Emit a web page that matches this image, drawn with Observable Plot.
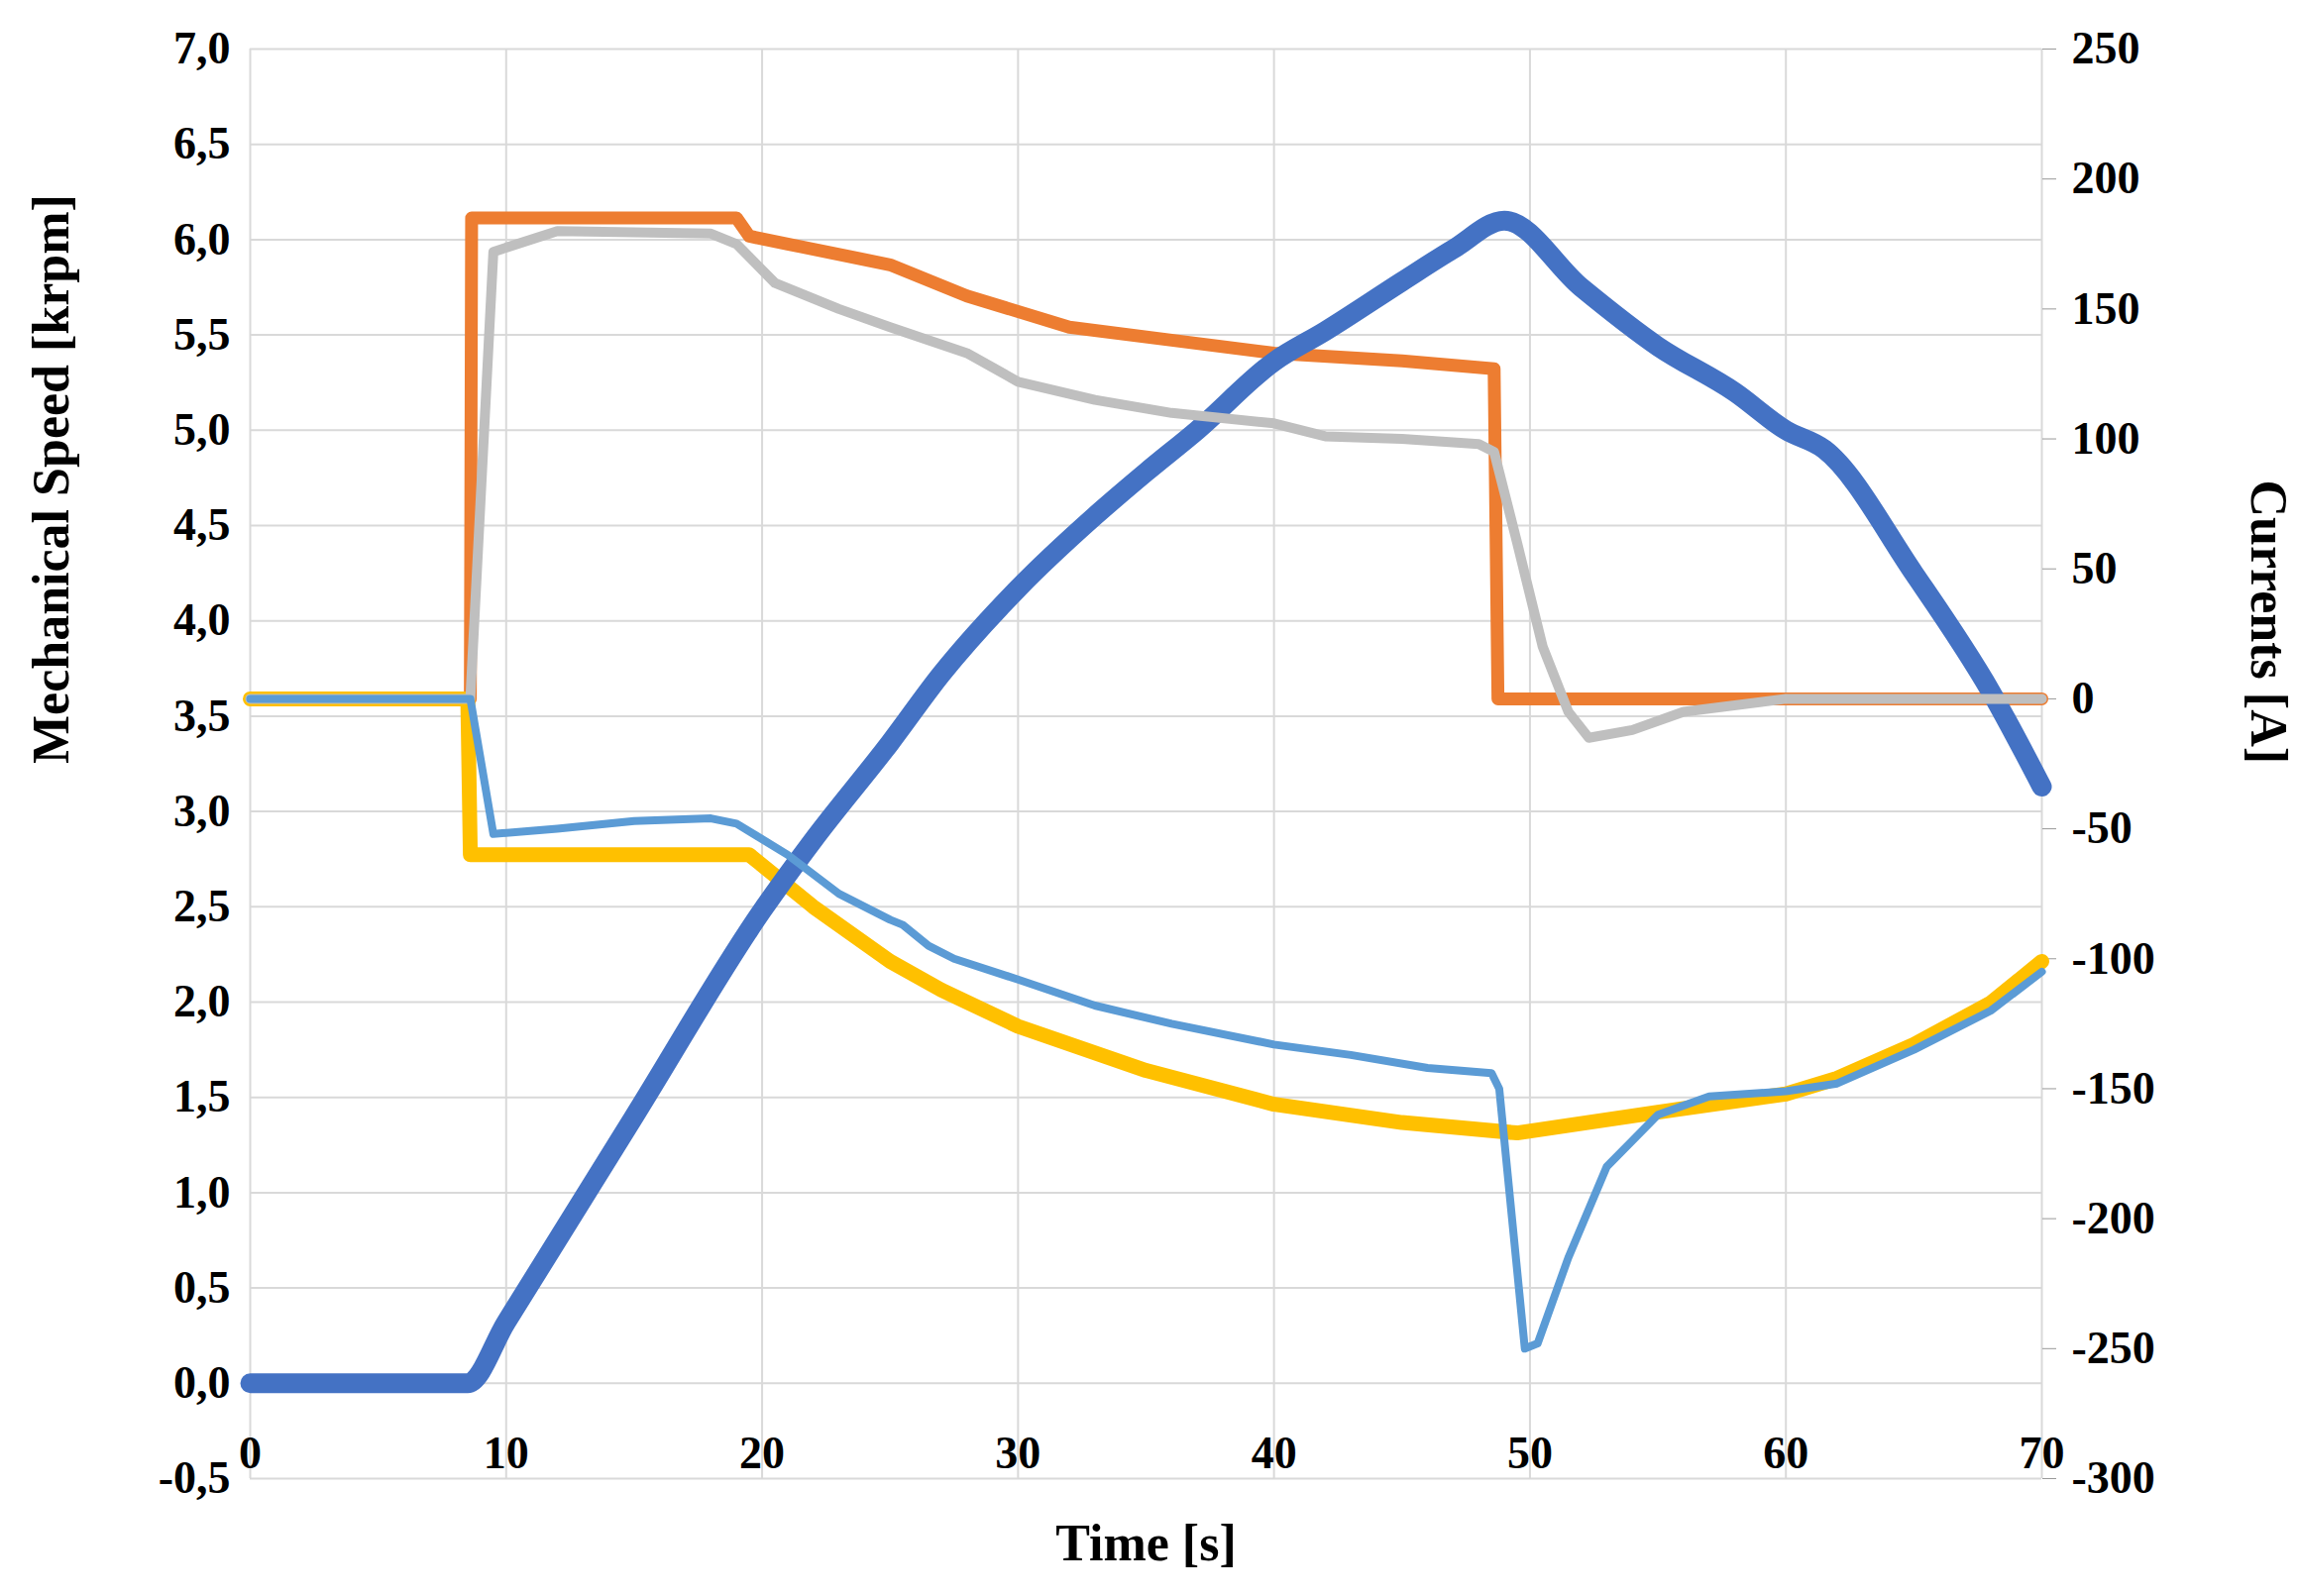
<!DOCTYPE html>
<html><head><meta charset="utf-8">
<script src="https://cdn.jsdelivr.net/npm/d3@7"></script>
<script src="https://cdn.jsdelivr.net/npm/@observablehq/plot@0.6"></script>
<style>body{margin:0;background:#fff}svg{font-family:"Liberation Serif",serif;font-weight:bold}</style>
</head><body><div id="c"></div>
<script>
const speedT = [0,8.5,10,15,20,22,25,27,30,33,35,37,40,42,45,47,49,52,55,58,60,61.5,65,68,70];
const speedV = [0,0,0.32,1.4,2.48,2.85,3.36,3.72,4.17,4.55,4.78,5.0,5.36,5.52,5.78,5.95,6.1,5.75,5.44,5.2,5.0,4.9,4.25,3.63,3.13];
const orangeT = [0,8.6,8.65,19,19.5,21,25,28,32,36,40,45,48.6,48.75,70];
const orangeV = [0,0,185,185,178,175,167,155,143,138,133,130,127,0,0];
const grayT = [0,8.6,9.5,12,18,19,20.5,23,25,28,30,33,36,40,42,45,48,48.6,49.5,50.5,51.5,52.3,54,56,60,70];
const grayV = [0,0,172,180,179,175,160,150,143,133,122,115,110,106,101,100,98,95,60,20,-5,-15,-12,-5,0,0];
const yellowT = [0,8.5,8.6,19.5,22,25,27,30,35,40,45,49.5,55,60,62,65,68,70];
const yellowV = [0,0,-60,-60,-80,-101,-112,-126,-143,-156,-163,-167,-159,-152,-146,-133,-117,-101];
const lblueT = [0,8.6,9.5,12,15,18,19,21,23,25,25.5,26.5,27.5,30,33,36,40,43,46,48.5,48.8,49.3,49.8,50.3,51.5,53,55,57,60,62,65,68,70];
const lblueV = [0,0,-52,-50,-47,-46,-48,-60,-75,-85,-87,-95,-100,-108,-118,-125,-133,-137,-142,-144,-150,-200,-250,-248,-215,-180,-160,-153,-151,-148,-135,-120,-105];
const xTicks = [0,10,20,30,40,50,60,70];
const leftTicks = d3.range(-0.5,7.01,0.5);
const rightTicks = d3.range(-300,251,50);

const conv = c => -0.5 + (c + 300) / 550 * 7.5;
const mk = (T,V,cur) => T.map((t,i)=>({t, v: cur ? conv(V[i]) : V[i]}));
const speed = mk(speedT,speedV,false), orange = mk(orangeT,orangeV,true), gray = mk(grayT,grayV,true),
      yellow = mk(yellowT,yellowV,true), lblue = mk(lblueT,lblueV,true);
const fmt = d => d.toFixed(1).replace(".", ",");

const chart = Plot.plot({
  width: 2320, height: 1611,
  marginLeft: 252, marginRight: 260, marginTop: 49, marginBottom: 119,
  style: {fontSize: "46px", fontFamily: "Liberation Serif", fontWeight: "bold", color: "#000"},
  x: {domain: [0,70], axis: null},
  y: {domain: [-0.5,7], axis: null},
  marks: [
    Plot.gridX(xTicks, {stroke: "#d9d9d9", strokeOpacity: 1, strokeWidth: 2}),
    Plot.gridY(leftTicks, {stroke: "#d9d9d9", strokeOpacity: 1, strokeWidth: 2}),
    Plot.axisY(leftTicks, {anchor: "left", tickSize: 0, tickPadding: 20, tickFormat: fmt, label: null, fontSize: 46}),
    Plot.axisY(rightTicks.map(conv), {anchor: "right", tickSize: 14, tickPadding: 16, tickFormat: (d,i) => String(rightTicks[i]), label: null, fontSize: 46, stroke: "#999"}),
    Plot.text(xTicks, {x: d=>d, y: 0, dy: 71, text: d=>String(d), fontSize: 46}),
    Plot.text(["Mechanical Speed [krpm]"], {frameAnchor: "left", dx: -200, rotate: -90, fontSize: 52}),
    Plot.text(["Currents [A]"], {frameAnchor: "right", dx: 228, rotate: 90, fontSize: 52}),
    Plot.text(["Time [s]"], {frameAnchor: "bottom", dy: 82, fontSize: 52}),
    Plot.line(orange, {x:"t", y:"v", stroke: "#ed7d31", strokeWidth: 13}),
    Plot.line(yellow, {x:"t", y:"v", stroke: "#ffc000", strokeWidth: 15}),
    Plot.line(speed, {x:"t", y:"v", stroke: "#4472c4", strokeWidth: 20, curve: "monotone-x"}),
    Plot.line(gray, {x:"t", y:"v", stroke: "#bfbfbf", strokeWidth: 10}),
    Plot.line(lblue, {x:"t", y:"v", stroke: "#5b9bd5", strokeWidth: 8})
  ]
});
document.getElementById("c").appendChild(chart);
</script></body></html>
